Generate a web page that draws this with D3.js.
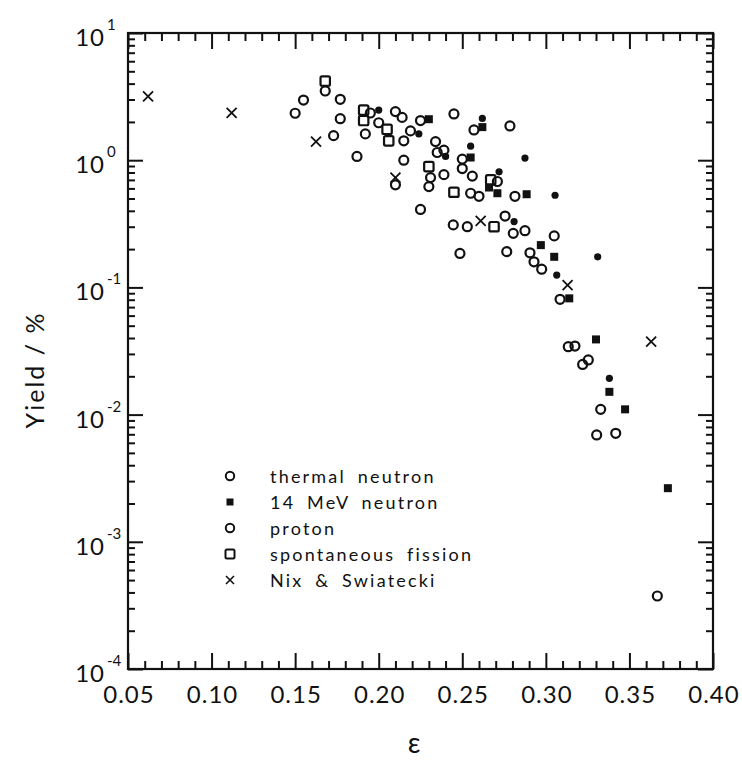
<!DOCTYPE html>
<html>
<head>
<meta charset="utf-8">
<script src="https://cdn.jsdelivr.net/npm/d3@7"></script>
<style>
  body { margin: 0; background: #fff; }
  text { font-family: Lato, "DejaVu Sans", sans-serif; fill: #111; }
</style>
</head>
<body>
<script>
// [epsilon, yield %]
const thermal = [
  [0.150, 2.34], [0.155, 2.97], [0.168, 3.50], [0.177, 3.01], [0.177, 2.12],
  [0.173, 1.56], [0.187, 1.07], [0.192, 1.61], [0.195, 2.35], [0.200, 1.97],
  [0.210, 2.41], [0.214, 2.17], [0.215, 1.42], [0.215, 1.00], [0.210, 0.64],
  [0.219, 1.70], [0.225, 2.05], [0.225, 0.41], [0.234, 1.40], [0.235, 1.15],
  [0.239, 1.20], [0.231, 0.73], [0.230, 0.62], [0.239, 0.77], [0.245, 2.31],
  [0.250, 1.02], [0.250, 0.86], [0.256, 0.75], [0.257, 1.73], [0.2785, 1.86],
  [0.255, 0.55], [0.260, 0.52], [0.2815, 0.52], [0.271, 0.68], [0.2446, 0.31],
  [0.253, 0.30], [0.2486, 0.185], [0.2756, 0.364], [0.2805, 0.266], [0.2875, 0.279],
  [0.2766, 0.191], [0.2905, 0.187], [0.2929, 0.159], [0.2975, 0.139], [0.305, 0.254],
  [0.3085, 0.0806], [0.3134, 0.0342], [0.3174, 0.0346], [0.322, 0.0248], [0.3254, 0.0269],
  [0.3328, 0.0110], [0.3304, 0.00692], [0.3418, 0.00713], [0.3667, 0.000375]
];
const mev14 = [
  [0.230, 2.10], [0.255, 1.05], [0.262, 1.82], [0.271, 0.55], [0.2885, 0.54],
  [0.266, 0.61], [0.297, 0.215], [0.305, 0.174], [0.314, 0.082], [0.330, 0.039],
  [0.338, 0.0151], [0.3474, 0.0110], [0.373, 0.00264]
];
const proton = [
  [0.200, 2.48], [0.224, 1.61], [0.240, 1.07], [0.255, 1.29], [0.262, 2.13],
  [0.272, 0.81], [0.2875, 1.04], [0.3055, 0.53], [0.281, 0.329], [0.3065, 0.125],
  [0.331, 0.174], [0.338, 0.0193]
];
const spontaneous = [
  [0.168, 4.19], [0.191, 2.48], [0.191, 2.05], [0.205, 1.75], [0.206, 1.42],
  [0.230, 0.89], [0.245, 0.56], [0.267, 0.70], [0.269, 0.30]
];
const nix = [
  [0.062, 3.17], [0.112, 2.36], [0.1625, 1.40], [0.210, 0.73], [0.261, 0.334],
  [0.313, 0.104], [0.363, 0.0374]
];

const legendLabels = ['thermal neutron', '14 MeV neutron', 'proton', 'spontaneous fission', 'Nix & Swiatecki'];
const xMajor = [0.05, 0.10, 0.15, 0.20, 0.25, 0.30, 0.35, 0.40];
const yExponents = [-4, -3, -2, -1, 0, 1];

const width = 742, height = 760;
const mLeft = 128, mRight = 713, mTop = 33, mBottom = 669;

const x = d3.scaleLinear().domain([0.05, 0.40]).range([mLeft, mRight]);
const y = d3.scaleLog().domain([1e-4, 10]).range([mBottom, mTop]);

const svg = d3.select('body').append('svg')
  .attr('width', width)
  .attr('height', height);

const xMinor = d3.range(5, 41).filter(d => d % 5 !== 0).map(d => d / 100);
const yMajor = yExponents.map(e => Math.pow(10, e));
const yMinor = [];
yExponents.slice(0, -1).forEach(e => {
  d3.range(2, 10).forEach(m => yMinor.push(m * Math.pow(10, e)));
});

const styleAxis = g => {
  g.select('.domain').remove();
  g.selectAll('line').attr('stroke', '#111').attr('stroke-width', 2);
};

// ticks point inward on all four sides
svg.append('g').attr('transform', `translate(0,${mBottom})`)
  .call(d3.axisBottom(x).tickValues(xMajor).tickSize(-16).tickFormat('')).call(styleAxis);
svg.append('g').attr('transform', `translate(0,${mBottom})`)
  .call(d3.axisBottom(x).tickValues(xMinor).tickSize(-8).tickFormat('')).call(styleAxis);
svg.append('g').attr('transform', `translate(0,${mTop})`)
  .call(d3.axisTop(x).tickValues(xMajor).tickSize(-16).tickFormat('')).call(styleAxis);
svg.append('g').attr('transform', `translate(0,${mTop})`)
  .call(d3.axisTop(x).tickValues(xMinor).tickSize(-8).tickFormat('')).call(styleAxis);

svg.append('g').attr('transform', `translate(${mLeft},0)`)
  .call(d3.axisLeft(y).tickValues(yMajor).tickSize(-15).tickFormat('')).call(styleAxis);
svg.append('g').attr('transform', `translate(${mLeft},0)`)
  .call(d3.axisLeft(y).tickValues(yMinor).tickSize(-7).tickFormat('')).call(styleAxis);
svg.append('g').attr('transform', `translate(${mRight},0)`)
  .call(d3.axisRight(y).tickValues(yMajor).tickSize(-15).tickFormat('')).call(styleAxis);
svg.append('g').attr('transform', `translate(${mRight},0)`)
  .call(d3.axisRight(y).tickValues(yMinor).tickSize(-7).tickFormat('')).call(styleAxis);

svg.append('rect')
  .attr('x', mLeft).attr('y', mTop)
  .attr('width', mRight - mLeft).attr('height', mBottom - mTop)
  .attr('fill', 'none').attr('stroke', '#111').attr('stroke-width', 2.2);

// tick labels
svg.append('g').selectAll('text')
  .data(xMajor)
  .join('text')
  .attr('x', d => x(d) + 1)
  .attr('y', mBottom + 34)
  .attr('text-anchor', 'middle')
  .attr('font-size', 24)
  .attr('letter-spacing', 1)
  .text(d => d.toFixed(2));

const yl = svg.append('g').selectAll('g')
  .data(yExponents)
  .join('g')
  .attr('transform', d => `translate(${mLeft - 22},${y(Math.pow(10, d))})`);
yl.append('text')
  .attr('x', -1).attr('y', 13)
  .attr('text-anchor', 'end')
  .attr('font-size', 24)
  .attr('letter-spacing', 1)
  .text('10');
yl.append('text')
  .attr('x', 1).attr('y', -3)
  .attr('font-size', 15)
  .text(d => d < 0 ? '-' + Math.abs(d) : d);

svg.append('text')
  .attr('transform', 'translate(44,370) rotate(-90)')
  .attr('text-anchor', 'middle')
  .attr('font-size', 25)
  .attr('letter-spacing', 2)
  .text('Yield / %');

svg.append('text')
  .attr('x', 414).attr('y', 753)
  .attr('text-anchor', 'middle')
  .attr('font-size', 28)
  .text('ε');

// markers
const marks = svg.append('g');
marks.append('g').selectAll('circle').data(thermal).join('circle')
  .attr('cx', d => x(d[0])).attr('cy', d => y(d[1])).attr('r', 4.5)
  .attr('fill', 'none').attr('stroke', '#111').attr('stroke-width', 2.2);

marks.append('g').selectAll('rect').data(spontaneous).join('rect')
  .attr('x', d => x(d[0]) - 4.7).attr('y', d => y(d[1]) - 4.7)
  .attr('width', 9.4).attr('height', 9.4).attr('rx', 1.5)
  .attr('fill', 'none').attr('stroke', '#111').attr('stroke-width', 2.2);

marks.append('g').selectAll('circle').data(proton).join('circle')
  .attr('cx', d => x(d[0])).attr('cy', d => y(d[1])).attr('r', 3.6)
  .attr('fill', '#111');

marks.append('g').selectAll('rect').data(mev14).join('rect')
  .attr('x', d => x(d[0]) - 4).attr('y', d => y(d[1]) - 4)
  .attr('width', 8).attr('height', 8)
  .attr('fill', '#111');

marks.append('g').selectAll('path').data(nix).join('path')
  .attr('d', d => {
    const cx = x(d[0]), cy = y(d[1]), s = 5;
    return `M${cx - s},${cy - s}L${cx + s},${cy + s}M${cx - s},${cy + s}L${cx + s},${cy - s}`;
  })
  .attr('stroke', '#111').attr('stroke-width', 1.8).attr('fill', 'none');

// legend
const lg = svg.append('g').attr('transform', 'translate(230,476)');
const row = 26;
lg.append('circle').attr('cx', 0).attr('cy', 0).attr('r', 4.2)
  .attr('fill', 'none').attr('stroke', '#111').attr('stroke-width', 2);
lg.append('rect').attr('x', -3.5).attr('y', row - 3.5).attr('width', 7).attr('height', 7)
  .attr('fill', '#111');
lg.append('circle').attr('cx', 0).attr('cy', row * 2).attr('r', 4.2)
  .attr('fill', 'none').attr('stroke', '#111').attr('stroke-width', 2);
lg.append('rect').attr('x', -4.5).attr('y', row * 3 - 4.5).attr('width', 9).attr('height', 9)
  .attr('rx', 1.5).attr('fill', 'none').attr('stroke', '#111').attr('stroke-width', 2);
lg.append('path').attr('d', `M-4,${row * 4 - 4}L4,${row * 4 + 4}M-4,${row * 4 + 4}L4,${row * 4 - 4}`)
  .attr('stroke', '#111').attr('stroke-width', 1.6);

lg.selectAll('text').data(legendLabels).join('text')
  .attr('x', 40).attr('y', (d, i) => i * row + 7)
  .attr('font-size', 18)
  .attr('letter-spacing', 2.2)
  .attr('word-spacing', 5)
  .text(d => d);
</script>
</body>
</html>
